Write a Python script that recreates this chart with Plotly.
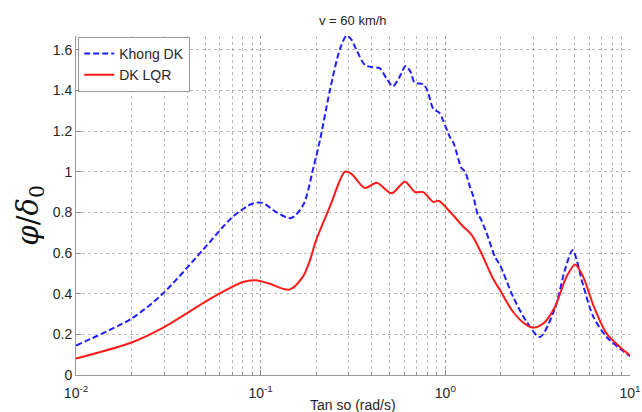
import plotly.graph_objects as go

# Khong DK (uncontrolled)
freq_blue = [0.01, 0.02, 0.0295, 0.0485, 0.0705, 0.0906, 0.102, 0.121, 0.146, 0.17, 0.193, 0.21,
             0.237, 0.268, 0.292, 0.31, 0.33, 0.367, 0.40, 0.44, 0.48, 0.52, 0.56, 0.61, 0.65,
             0.68, 0.76, 0.80, 0.86, 0.93, 0.97, 1.06, 1.11, 1.22, 1.28, 1.36, 1.42, 1.51, 1.54,
             1.67, 1.86, 1.98, 2.33, 2.76, 3.25, 3.92, 4.44, 4.89, 5.58, 6.33, 7.47, 8.81, 10.0]
mag_blue = [0.145, 0.278, 0.40, 0.614, 0.778, 0.844, 0.847, 0.803, 0.772, 0.836, 1.02, 1.16,
            1.40, 1.60, 1.67, 1.65, 1.60, 1.525, 1.515, 1.51, 1.46, 1.42, 1.46, 1.52, 1.49,
            1.44, 1.43, 1.40, 1.31, 1.29, 1.255, 1.17, 1.14, 1.02, 1.0, 0.925, 0.877, 0.78, 0.775,
            0.70, 0.58, 0.54, 0.384, 0.261, 0.187, 0.327, 0.516, 0.614, 0.44, 0.286, 0.187, 0.13, 0.092]

# DK LQR (controlled)
freq_red = [0.01, 0.02, 0.0295, 0.0485, 0.0597, 0.080, 0.0944, 0.111, 0.143, 0.169, 0.185, 0.199,
            0.237, 0.286, 0.31, 0.367, 0.425, 0.512, 0.604, 0.686, 0.759, 0.86, 0.92, 1.06, 1.23,
            1.39, 1.54, 1.83, 1.98, 2.33, 2.76, 3.0, 3.39, 3.92, 4.53, 5.04, 5.58, 6.33, 7.47, 8.81, 10.0]
mag_red = [0.081, 0.16, 0.232, 0.352, 0.40, 0.458, 0.466, 0.45, 0.42, 0.483, 0.565, 0.66,
           0.828, 1.0, 0.99, 0.92, 0.946, 0.894, 0.951, 0.90, 0.90, 0.852, 0.857, 0.803, 0.737,
           0.688, 0.614, 0.467, 0.417, 0.31, 0.245, 0.233, 0.253, 0.335, 0.483, 0.544, 0.483, 0.343, 0.204, 0.138, 0.097]

x_tickvals = [0.01, 0.1, 1, 10]
x_ticktext = ["10<sup>-2</sup>", "10<sup>-1</sup>", "10<sup>0</sup>", "10<sup>1</sup>"]
y_tickvals = [0, 0.2, 0.4, 0.6, 0.8, 1.0, 1.2, 1.4, 1.6]
y_ticktext = ["0", "0.2", "0.4", "0.6", "0.8", "1", "1.2", "1.4", "1.6"]

fig = go.Figure()
fig.add_trace(go.Scatter(x=freq_blue, y=mag_blue, mode="lines", name="Khong DK",
                         line=dict(color="#1f1fff", width=2, dash="6px,3px", shape="spline", smoothing=0.8)))
fig.add_trace(go.Scatter(x=freq_red, y=mag_red, mode="lines", name="DK LQR",
                         line=dict(color="#ff1a1a", width=2, shape="spline", smoothing=0.8)))

grid = "rgba(120,120,120,0.5)"
tfont = dict(family="Liberation Sans, Arial", size=14, color="#262626")
fig.update_xaxes(type="log", range=[-2, 1], tickvals=x_tickvals, ticktext=x_ticktext,
                 showgrid=True, gridcolor=grid, griddash="dot", gridwidth=1,
                 minor=dict(showgrid=True, gridcolor=grid, griddash="dot", dtick="D1", ticks="inside", ticklen=3, tickcolor="#888"),
                 showline=True, linecolor="#9a9a9a", linewidth=1, ticks="inside", ticklen=5, tickcolor="#888",
                 tickfont=tfont, zeroline=False, automargin=False, ticklabelstandoff=5)
fig.update_yaxes(range=[0, 1.668], tickvals=y_tickvals, ticktext=y_ticktext,
                 showgrid=True, gridcolor=grid, griddash="dot", gridwidth=1,
                 showline=True, linecolor="#9a9a9a", linewidth=1, ticks="inside", ticklen=5, tickcolor="#888",
                 tickfont=tfont, zeroline=False, automargin=False)

ph = 412 - 36 - 37
pw = 642 - 76 - 12
fig.update_layout(
    width=642, height=412,
    margin=dict(l=76, r=12, t=36, b=37, autoexpand=False),
    paper_bgcolor="white", plot_bgcolor="white",
    showlegend=True,
    legend=dict(x=0.004, y=0.997, xanchor="left", yanchor="top",
                bgcolor="white", bordercolor="#9a9a9a", borderwidth=1,
                font=tfont, tracegroupgap=0, itemwidth=30),
)
fig.add_annotation(text="v = 60 km/h", x=0.5, y=1 + (36 - 20) / ph, xref="paper", yref="paper",
                   showarrow=False, xanchor="center", yanchor="middle",
                   font=dict(family="Liberation Sans, Arial", size=13, color="#262626"))
fig.add_annotation(text="Tan so (rad/s)", x=0.5, y=-(405 - 375) / ph, xref="paper", yref="paper",
                   showarrow=False, xanchor="center", yanchor="middle",
                   font=dict(family="Liberation Sans, Arial", size=14, color="#262626"))
fig.add_annotation(text="<i>φ</i>/<i>δ</i><sub>0</sub>", x=-(76 - 30) / pw, y=0.47, xref="paper", yref="paper",
                   showarrow=False, textangle=-90, xanchor="center", yanchor="middle",
                   font=dict(family="DejaVu Serif, Liberation Serif", size=29, color="#111"))

fig.write_html("out.html")
